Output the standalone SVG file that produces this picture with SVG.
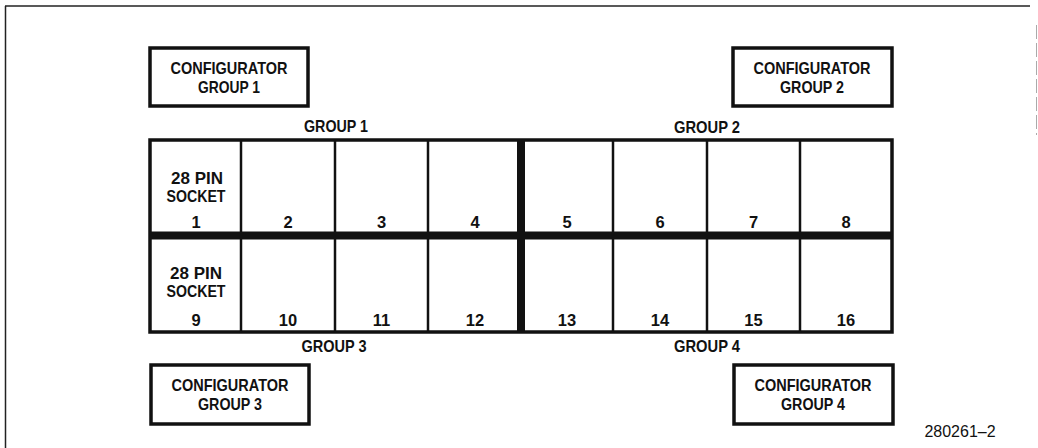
<svg xmlns="http://www.w3.org/2000/svg" width="1038" height="448" viewBox="0 0 1038 448">
<style>
text{font-family:"Liberation Sans",Arial,sans-serif;font-weight:bold;font-size:16.5px;fill:#111;text-anchor:middle}
.box{fill:#fff;stroke:#111;stroke-width:3.5}
.thin{stroke:#111;stroke-width:2.5}
.thick{stroke:#111;stroke-width:8}
.fig{font-weight:normal;font-size:16px}
</style>
<rect width="1038" height="448" fill="#fff"/>
<g id="frame" fill="none" stroke="#222">
<line x1="5" y1="6" x2="1030" y2="6" stroke-width="1.5"/>
<line x1="5.5" y1="6" x2="5.5" y2="448" stroke-width="1.5"/>
<line x1="1036.5" y1="25" x2="1036.5" y2="135" stroke="#aaa" stroke-width="1" stroke-dasharray="14 4"/>
</g>
<g id="config1"><rect class="box" x="150" y="48" width="158" height="58"/><text x="229" y="74" textLength="117" lengthAdjust="spacingAndGlyphs">CONFIGURATOR</text><text x="229" y="93" textLength="62" lengthAdjust="spacingAndGlyphs">GROUP 1</text></g>
<g id="config2"><rect class="box" x="733" y="48" width="159" height="58"/><text x="812" y="74" textLength="117" lengthAdjust="spacingAndGlyphs">CONFIGURATOR</text><text x="812" y="93" textLength="64" lengthAdjust="spacingAndGlyphs">GROUP 2</text></g>
<g id="config3"><rect class="box" x="151" y="365" width="158" height="59"/><text x="230" y="391" textLength="117" lengthAdjust="spacingAndGlyphs">CONFIGURATOR</text><text x="230" y="410" textLength="64" lengthAdjust="spacingAndGlyphs">GROUP 3</text></g>
<g id="config4"><rect class="box" x="734" y="365" width="159" height="59"/><text x="813" y="391" textLength="117" lengthAdjust="spacingAndGlyphs">CONFIGURATOR</text><text x="813" y="410" textLength="64" lengthAdjust="spacingAndGlyphs">GROUP 4</text></g>
<g id="group-labels">
<text x="336" y="132" textLength="64" lengthAdjust="spacingAndGlyphs">GROUP 1</text>
<text x="707" y="133" textLength="66" lengthAdjust="spacingAndGlyphs">GROUP 2</text>
<text x="334" y="352" textLength="65" lengthAdjust="spacingAndGlyphs">GROUP 3</text>
<text x="707" y="352" textLength="66" lengthAdjust="spacingAndGlyphs">GROUP 4</text>
</g>
<g id="connectors" fill="none">
<rect x="150" y="140" width="742" height="192" stroke="#111" stroke-width="3.5"/>
<line class="thin" x1="241" y1="140" x2="241" y2="332"/>
<line class="thin" x1="335" y1="140" x2="335" y2="332"/>
<line class="thin" x1="428" y1="140" x2="428" y2="332"/>
<line class="thin" x1="613" y1="140" x2="613" y2="332"/>
<line class="thin" x1="707" y1="140" x2="707" y2="332"/>
<line class="thin" x1="800" y1="140" x2="800" y2="332"/>
<line class="thick" x1="150" y1="235.5" x2="892" y2="235.5"/>
<line class="thick" x1="521" y1="140" x2="521" y2="332"/>
</g>
<g id="sockets">
<text x="197" y="184" textLength="52" lengthAdjust="spacingAndGlyphs">28 PIN</text><text x="196" y="202" textLength="59" lengthAdjust="spacingAndGlyphs">SOCKET</text>
<text x="196" y="279" textLength="52" lengthAdjust="spacingAndGlyphs">28 PIN</text><text x="196" y="297" textLength="59" lengthAdjust="spacingAndGlyphs">SOCKET</text>
</g>
<g id="numbers">
<text x="196" y="228">1</text><text x="288" y="228">2</text><text x="381.5" y="228">3</text><text x="475" y="228">4</text>
<text x="567" y="228">5</text><text x="660" y="228">6</text><text x="753.5" y="228">7</text><text x="846" y="228">8</text>
<text x="196" y="326">9</text><text x="288" y="326">10</text><text x="381.5" y="326">11</text><text x="475" y="326">12</text>
<text x="567" y="326">13</text><text x="660" y="326">14</text><text x="753.5" y="326">15</text><text x="846" y="326">16</text>
</g>
<text class="fig" x="960" y="437">280261–2</text>
</svg>
